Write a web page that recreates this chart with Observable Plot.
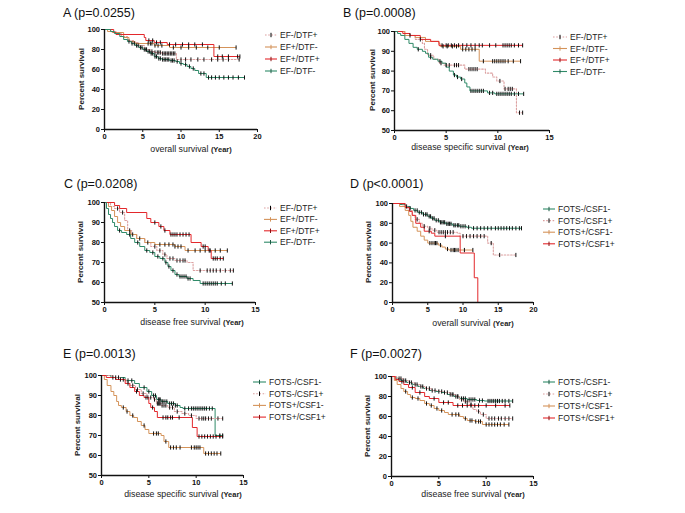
<!DOCTYPE html>
<html>
<head>
<meta charset="utf-8">
<script src="https://cdn.jsdelivr.net/npm/d3@7"></script>
<script src="https://cdn.jsdelivr.net/npm/@observablehq/plot@0.6"></script>
<style>
  html, body { margin: 0; padding: 0; background: #fff; }
  #root { position: relative; width: 685px; height: 513px; background: #fff; overflow: hidden; }
</style>
</head>
<body>
<div id="root"></div>
<script>
// ---------- labels ----------
const TITLES = ["A (p=0.0255)", "B (p=0.0008)", "C (p=0.0208)", "D (p<0.0001)", "E (p=0.0013)", "F (p=0.0027)"];
const XLABELS = ["overall survival", "disease specific survival", "disease free survival",
                 "overall survival", "disease specific survival", "disease free survival"];
const YLABEL = "Percent survival";
const EF_LABELS = ["EF-/DTF+", "EF+/DTF-", "EF+/DTF+", "EF-/DTF-"];
const FOTS_LABELS = ["FOTS-/CSF1-", "FOTS-/CSF1+", "FOTS+/CSF1-", "FOTS+/CSF1+"];
const TICKS_X20 = [0, 5, 10, 15, 20];
const TICKS_X15 = [0, 5, 10, 15];
const TICKS_Y0 = [0, 20, 40, 60, 80, 100];
const TICKS_Y50 = [50, 60, 70, 80, 90, 100];

// ---------- Panel A: overall survival (EF/DTF) ----------
const A_EFmDTFp_steps = [[0,100],[0.8,98],[1.5,96],[2.2,93],[3,89],[3.8,87],[4.5,84],[5.2,80],[6,78],[6.5,77],[7.5,76],[9.4,70]];
const A_EFmDTFp_cens = [5.5,6.2,6.6,6.9,7.1,7.3,7.6,7.8,8,8.2,8.4,8.6,8.8,9,9.2,10,10.6,11.3,12.2,13,14,14.8,15.5,16.2,17.6];
const A_EFpDTFm_steps = [[0,100],[0.4,98],[1,97],[2.5,92],[3.2,88],[4,86],[6.5,84],[8.5,82]];
const A_EFpDTFm_cens = [5.7,6,6.2,6.6,7,7.5,9,10,11,12,13.5,15,17.2];
const A_EFpDTFp_steps = [[0,100],[1.2,97],[1.5,95],[5.2,92],[5.4,89],[6.5,87],[8.2,85],[14.3,73]];
const A_EFpDTFp_cens = [5.8,6.3,6.8,7.3,8.5,9.3,10.2,11,11.8,12.8,14.8,15.4,16.2,17.4,17.7];
const A_EFmDTFm_steps = [[0,100],[0.8,98],[1.3,96],[2,93],[2.5,90],[3,88],[3.5,86],[4,84],[4.5,82],[5,80],[5.5,78],[6,76],[6.5,73],[7,71],[7.5,70],[8.5,69],[9.3,68],[9.8,66],[10.3,65],[10.8,63],[11.3,61],[11.8,59],[12.3,56],[13.3,52]];
const A_EFmDTFm_cens = [3.2,3.6,3.9,4.2,4.4,4.7,4.9,5.2,5.4,5.7,5.9,6.1,6.3,6.6,6.8,7.1,7.3,7.6,7.8,8,8.2,8.4,8.7,8.9,9.1,9.5,10,10.6,11.1,11.6,12.6,13,13.6,14,14.5,15,15.6,16.2,16.8,17.5,18.3];

// ---------- Panel B: disease specific survival (EF/DTF) ----------
const B_EFmDTFp_steps = [[0,100],[1,98],[2,96],[2.7,94],[2.9,91],[3.2,88],[3.8,86],[4.3,84],[4.8,83],[6.8,81],[8.8,79],[9.5,77],[9.9,75],[10.6,71],[11.8,59]];
const B_EFmDTFp_cens = [1.5,2.5,3.5,4.5,5,5.3,5.8,6,6.2,7.2,7.4,7.6,7.8,8,10.2,10.7,11,11.2,11.4,12.1,12.4];
const B_EFpDTFm_steps = [[0,100],[1,98],[2,97],[3,95],[4.3,94],[4.4,92.5],[6.4,91],[8.2,85]];
const B_EFpDTFm_cens = [4.7,5.1,5.6,6,6.6,6.9,7.2,7.5,7.8,8.6,9.5,9.7,9.9,10.1,10.3,10.5,10.7,11,11.5,12.2];
const B_EFpDTFp_steps = [[0,100],[0.8,99],[1.5,98],[2.5,96],[3.5,95],[4.3,93]];
const B_EFpDTFp_cens = [4.6,5,5.2,5.5,5.8,6.2,6.6,7,7.4,7.8,8.2,8.5,9.2,9.8,10.5,10.7,10.9,11.1,11.3,11.6,12,12.4];
const B_EFmDTFm_steps = [[0,100],[0.3,99],[0.6,98],[1,96],[1.4,94],[1.8,92],[2.2,91],[2.7,90],[3,89],[3.3,87],[3.7,86],[4.2,85],[4.6,84],[5,82],[5.3,80],[5.7,78],[6,77],[6.4,76],[6.8,74],[7,72],[7.3,70],[9,69],[9.7,68.5]];
const B_EFmDTFm_cens = [2.3,3.5,4.4,5.8,6.1,6.5,7.4,7.6,7.8,8,8.2,8.4,8.6,9.2,9.5,9.9,10.1,10.3,10.5,10.7,10.9,11.1,11.3,11.6,12,12.5];

// ---------- Panel C: disease free survival (EF/DTF) ----------
const C_EFmDTFp_steps = [[0,100],[0.6,98],[1,97],[1.5,95],[2,91],[2.3,86],[2.7,84],[3.2,82],[4,80],[4.6,78],[5.2,76],[5.8,74],[6.2,72],[7,71],[8.2,70],[8.8,66]];
const C_EFmDTFp_cens = [1.3,1.8,2.5,3.5,4.3,5,5.5,6,6.5,6.8,7.2,7.5,7.8,8,9.5,10.2,10.5,10.8,11.1,11.5,12,12.5,12.8];
const C_EFpDTFm_steps = [[0,100],[0.4,98],[0.7,96],[1,93],[1.3,90],[1.6,88],[2,86],[2.6,84],[3.2,82],[4,80],[5,79],[7,78],[8,76]];
const C_EFpDTFm_cens = [2.8,5.5,6,6.4,6.8,7,7.3,7.6,8.3,9,9.5,10,10.5,11,11.5,12.2];
const C_EFpDTFp_steps = [[0,100],[1,98.5],[1.5,97],[2.2,95],[4.2,92],[4.6,90],[5.4,88],[5.9,86],[6.5,84],[8.6,80],[9.6,78],[10.3,76],[10.6,72]];
const C_EFpDTFp_cens = [5,5.6,6,6.6,6.8,7,7.2,7.5,7.8,8.1,8.4,9.8,10,10.4,10.8,11,11.2,11.5,11.8];
const C_EFmDTFm_steps = [[0,100],[0.2,97],[0.4,94],[0.6,92],[0.8,90],[1,88],[1.3,86],[1.7,85],[2.2,84],[2.6,82],[3,80],[3.5,78],[4,76],[4.5,75],[5,73],[5.5,72],[6,70],[6.3,68],[6.6,66],[7,64],[7.4,63],[8.2,62],[8.8,61],[9.5,59.5]];
const C_EFmDTFm_cens = [1.5,2.5,3.3,4.2,4.8,5.3,5.8,6.1,6.4,6.8,7.2,7.5,7.7,7.9,8.1,8.3,8.5,9.8,10,10.2,10.4,10.6,10.8,11,11.2,11.6,12,12.7];

// ---------- Panel D: overall survival (FOTS/CSF1) ----------
const D_FmCm_steps = [[0,100],[1,99],[1.8,97],[2.5,95],[3,93],[3.6,91],[4.3,89],[5,87],[5.5,85],[6,83],[6.7,81],[7.5,79.5],[8.5,78],[9.5,77],[10.5,76],[11.2,75]];
const D_FmCm_cens = [2,2.5,3.2,3.5,3.8,4.1,4.4,4.7,4.9,5.2,5.4,5.7,5.9,6.2,6.5,6.8,7,7.2,7.4,7.7,7.9,8.1,8.3,8.7,8.9,9.2,9.4,9.7,10,10.3,10.8,11.5,12,12.5,13,13.5,14,14.6,15,15.4,15.8,16.2,16.6,17,17.5,18,18.3];
const D_FmCp_steps = [[0,100],[1.5,97],[2.2,93],[2.8,88],[3.2,84],[3.8,80],[4.3,77],[5,75],[5.6,73],[6.3,71],[9.2,70],[9.6,67],[13.5,60],[14.3,48]];
const D_FmCp_cens = [3.5,4.5,5.3,6,6.6,6.9,7.2,7.5,7.8,8.2,8.6,10,10.5,11,11.5,12,12.5,13,14,15.2,17.5];
const D_FpCm_steps = [[0,100],[1,97],[1.8,93],[2.3,88],[2.6,82],[2.9,76],[3.5,72],[4,67],[4.5,63],[5,60],[6.5,58],[7,56],[7.5,54],[8,53]];
const D_FpCm_cens = [5.3,5.6,5.9,6.1,6.3,6.8,7.8,8.3,8.6,8.8,9,9.3,10.2,11.4];
const D_FpCp_steps = [[0,100],[1.8,96],[2.4,92],[2.8,88],[3.3,80],[4,76],[4.5,72],[5.5,70],[6,67],[9.6,50],[11.6,25],[12.1,0]];
const D_FpCp_cens = [5.2,7.5];

// ---------- Panel E: disease specific survival (FOTS/CSF1) ----------
const E_FmCm_steps = [[0,100],[1,99],[2.5,97.5],[3.5,96],[4,94],[4.8,92],[5.3,90],[5.8,88],[6.3,87],[7,86],[7.8,85],[8.3,84],[8.6,83.5],[12,70]];
const E_FmCm_cens = [1.8,2.8,3.2,4.5,5,5.5,5.7,6,6.1,6.2,6.4,6.5,6.7,6.9,7.2,7.4,7.6,7.8,8,8.8,9.2,9.5,9.7,9.9,10.1,10.3,10.5,10.7,10.9,11.1,11.4,11.7,12.5,12.8];
const E_FmCp_steps = [[0,100],[1.2,99],[2,98],[2.6,96],[3,95],[3.6,93],[4.2,91],[4.8,89],[5.5,88],[5.8,86],[6.3,85],[7,84],[7.7,82],[8.5,81],[9.2,80],[10,78.5]];
const E_FmCp_cens = [1.5,2.3,3.3,3.8,4.4,4.9,5.2,5.6,5.9,6,6.1,6.2,6.4,6.6,6.8,7.2,7.5,8,8.8,9.5,10.3,10.6,10.8,11,11.3,11.6,12.3,12.8];
const E_FpCm_steps = [[0,100],[0.3,98],[0.6,95],[1,92],[1.3,90],[1.6,87],[1.8,85],[2.1,84],[2.6,82],[3,80],[3.4,79],[3.8,77],[4.2,75],[4.6,73],[5,71],[6.3,70],[6.6,67],[7.1,64],[10.8,61]];
const E_FpCm_cens = [2.3,2.7,3.3,4.5,5.5,5.8,6,6.8,7.3,7.6,7.9,8.3,9.5,9.8,10,10.2,10.4,11,11.3,11.6,11.9,12.2,12.6];
const E_FpCp_steps = [[0,100],[0.5,99],[1.5,98],[2.5,96],[3,94],[3.5,92],[4,90],[4.5,89],[5,86],[5.2,84],[5.6,82],[5.9,79],[9.6,74],[10.1,69.5]];
const E_FpCp_cens = [1.2,2,2.8,3.7,4.7,5.4,6.5,6.8,7,7.3,7.5,8.2,10.3,10.6,10.9,11.2,11.5,11.8,12.1,12.5,12.8];

// ---------- Panel F: disease free survival (FOTS/CSF1) ----------
const F_FmCm_steps = [[0,100],[0.5,98],[1,96],[1.6,94],[2.2,92],[2.8,90],[3.4,88],[4,86],[4.7,85],[5.3,84],[5.9,82],[6.6,80],[7.2,78],[8,77],[9,76],[9.8,75.5]];
const F_FmCm_cens = [0.8,1.3,1.9,2.5,3.1,3.7,4.3,5,5.6,6.2,6.4,6.8,7,7.4,7.6,7.8,8.2,8.4,8.6,8.8,9.3,9.6,10.2,10.4,10.6,10.8,11,11.2,11.4,11.7,12,12.4,12.8];
const F_FmCp_steps = [[0,100],[0.6,98],[1.2,96],[1.8,94],[2.4,92],[3,90],[3.6,88],[4.2,86],[5,85],[5.6,84],[6.2,82],[6.8,80],[7.2,77],[7.6,75],[8.2,72],[8.6,67],[9,65],[9.4,62],[10,58]];
const F_FmCp_cens = [1,1.5,2.1,2.7,3.3,4,4.6,5.3,5.9,6.5,7,7.4,7.8,8,8.4,9.2,9.7,10.3,10.6,10.9,11.3,11.6,12,12.4,12.8];
const F_FpCm_steps = [[0,100],[0.3,96],[0.6,92],[1,88],[1.3,85],[1.7,82],[2,79],[2.5,78],[3,76],[3.5,73],[4,71],[4.5,68],[5,66],[5.6,64],[6,62],[7.2,60],[7.6,58],[8,56],[8.8,55],[9.6,52]];
const F_FpCm_cens = [1.5,2.2,2.8,3.7,4.2,4.8,5.3,6.4,6.8,7.1,7.8,8.3,8.5,8.9,9.2,9.4,10,10.3,10.6,10.9,11.2,11.5,11.9,12.4];
const F_FpCp_steps = [[0,100],[0.4,97],[0.8,95],[1.3,92],[1.8,89],[2.5,84],[3.5,80],[4,78],[5,74],[6.5,71]];
const F_FpCp_cens = [1.1,2.2,3,4.5,5.5,6,7,7.5,8,8.4,8.8,9.2,10,11,12,12.5];

// ---------- styles ----------
const GREEN = "#2f8a68", TAN = "#d4935a", RED = "#e3282c", PINK = "#dca0a0";
const ST_DOT = {color: PINK, dash: "1.6,1.6", tick: "#000"};
const ST_TAN = {color: TAN, dash: null, tick: TAN};
const ST_RED = {color: RED, dash: null, tick: "#8a1010"};
const ST_GREEN = {color: GREEN, dash: null, tick: "#1d5a44"};
const EF_STYLES = [ST_DOT, ST_TAN, ST_RED, ST_GREEN];
const FOTS_STYLES = [ST_GREEN, ST_DOT, ST_TAN, ST_RED];

const FONT = "'Liberation Sans', Arial, Helvetica, sans-serif";

const panels = [
  {i:0, x0:104, x1:257, yTop:29, yBot:129, xdom:[0,20], xt:TICKS_X20, ydom:[0,100], yt:TICKS_Y0,
   title:[63,17], ylab:[81,79], xlab:[191,149], leg:{mx:265, tx:280, y0:35, dy:12},
   labels:EF_LABELS, styles:EF_STYLES,
   series:[[A_EFmDTFp_steps,A_EFmDTFp_cens],[A_EFpDTFm_steps,A_EFpDTFm_cens],[A_EFpDTFp_steps,A_EFpDTFp_cens],[A_EFmDTFm_steps,A_EFmDTFm_cens]]},
  {i:1, x0:394, x1:549, yTop:31, yBot:130, xdom:[0,15], xt:TICKS_X15, ydom:[50,100], yt:TICKS_Y50,
   title:[343,17], ylab:[372,80], xlab:[470,147], leg:{mx:553, tx:570, y0:37, dy:11.5},
   labels:EF_LABELS, styles:EF_STYLES,
   series:[[B_EFmDTFp_steps,B_EFmDTFp_cens],[B_EFpDTFm_steps,B_EFpDTFm_cens],[B_EFpDTFp_steps,B_EFpDTFp_cens],[B_EFmDTFm_steps,B_EFmDTFm_cens]]},
  {i:2, x0:104, x1:255, yTop:202, yBot:302, xdom:[0,15], xt:TICKS_X15, ydom:[50,100], yt:TICKS_Y50,
   title:[64,188], ylab:[80,252], xlab:[192,322], leg:{mx:264, tx:280, y0:208, dy:11.4},
   labels:EF_LABELS, styles:EF_STYLES,
   series:[[C_EFmDTFp_steps,C_EFmDTFp_cens],[C_EFpDTFm_steps,C_EFpDTFm_cens],[C_EFpDTFp_steps,C_EFpDTFp_cens],[C_EFmDTFm_steps,C_EFmDTFm_cens]]},
  {i:3, x0:392, x1:533, yTop:203, yBot:302, xdom:[0,20], xt:TICKS_X20, ydom:[0,100], yt:TICKS_Y0,
   title:[350,188], ylab:[368,252], xlab:[473,323], leg:{mx:543, tx:558, y0:209, dy:11.6},
   labels:FOTS_LABELS, styles:FOTS_STYLES,
   series:[[D_FmCm_steps,D_FmCm_cens],[D_FmCp_steps,D_FmCp_cens],[D_FpCm_steps,D_FpCm_cens],[D_FpCp_steps,D_FpCp_cens]]},
  {i:4, x0:101, x1:243, yTop:375, yBot:475, xdom:[0,15], xt:TICKS_X15, ydom:[50,100], yt:TICKS_Y50,
   title:[63,358], ylab:[77,425], xlab:[183,494], leg:{mx:253, tx:269, y0:382, dy:11.7},
   labels:FOTS_LABELS, styles:FOTS_STYLES,
   series:[[E_FmCm_steps,E_FmCm_cens],[E_FmCp_steps,E_FmCp_cens],[E_FpCm_steps,E_FpCm_cens],[E_FpCp_steps,E_FpCp_cens]]},
  {i:5, x0:391, x1:533, yTop:376, yBot:476, xdom:[0,15], xt:TICKS_X15, ydom:[0,100], yt:TICKS_Y0,
   title:[350,358], ylab:[367,426], xlab:[473,494], leg:{mx:543, tx:558, y0:382, dy:12},
   labels:FOTS_LABELS, styles:FOTS_STYLES,
   series:[[F_FmCm_steps,F_FmCm_cens],[F_FmCp_steps,F_FmCp_cens],[F_FpCm_steps,F_FpCm_cens],[F_FpCp_steps,F_FpCp_cens]]}
];

// censor tick symbol (vertical bar)
const censorSymbol = {draw(ctx, size) { const h = Math.sqrt(size / Math.PI); ctx.moveTo(0, -h); ctx.lineTo(0, h); }};

function stepValue(steps, t) {
  let v = steps[0][1];
  for (const [ts, s] of steps) if (ts <= t) v = s;
  return v;
}

const root = document.getElementById("root");

for (const p of panels) {
  const mL = 30, mR = 8, mT = 6, mB = 16;
  const width = p.x1 - p.x0 + mL + mR;
  const height = p.yBot - p.yTop + mT + mB;
  const marks = [];
  p.series.forEach(([steps, cens], k) => {
    const st = p.styles[k];
    const last = steps[steps.length - 1];
    const end = Math.max(last[0], cens.length ? cens[cens.length - 1] : 0);
    const pts = steps.map(([t, s]) => ({t, s}));
    pts.push({t: end, s: last[1]});
    marks.push(Plot.line(pts, {x: "t", y: "s", curve: "step-after", stroke: st.color, strokeWidth: st.dash ? 1.1 : 1, strokeDasharray: st.dash || undefined}));
  });
  p.series.forEach(([steps, cens]) => {
    const cd = cens.map(t => ({t, s: stepValue(steps, t)}));
    marks.push(Plot.dot(cd, {x: "t", y: "s", symbol: censorSymbol, r: 2.1, stroke: "#111", fill: "none", strokeWidth: 1}));
  });
  marks.push(Plot.ruleX([p.xdom[0]], {stroke: "#111", strokeWidth: 1.4}));
  marks.push(Plot.ruleY([p.ydom[0]], {stroke: "#111", strokeWidth: 1.4}));

  const svg = Plot.plot({
    width, height, marginLeft: mL, marginRight: mR, marginTop: mT, marginBottom: mB,
    x: {domain: p.xdom, ticks: p.xt, tickSize: 3, tickPadding: 1.5, label: null, tickFormat: d => String(d)},
    y: {domain: p.ydom, ticks: p.yt, tickSize: 3, tickPadding: 1.5, label: null, tickFormat: d => String(d)},
    style: {fontFamily: FONT, fontSize: "7.5px", fontWeight: "bold", color: "#111", background: "transparent", overflow: "visible"},
    marks
  });
  svg.style.position = "absolute";
  svg.style.left = (p.x0 - mL) + "px";
  svg.style.top = (p.yTop - mT) + "px";
  root.append(svg);
}

// ---------- text overlay: titles, axis labels, legends ----------
const ov = d3.create("svg")
  .attr("width", 685).attr("height", 513)
  .style("position", "absolute").style("left", "0px").style("top", "0px")
  .style("pointer-events", "none")
  .style("font-family", FONT);

for (const p of panels) {
  ov.append("text").attr("x", p.title[0]).attr("y", p.title[1])
    .attr("font-size", 12.5).attr("fill", "#111").text(TITLES[p.i]);
  ov.append("text").attr("transform", `translate(${p.ylab[0]},${p.ylab[1]}) rotate(-90)`)
    .attr("text-anchor", "middle").attr("dominant-baseline", "central")
    .attr("font-size", 8).attr("font-weight", "bold").attr("fill", "#222").text(YLABEL);
  const xl = ov.append("text").attr("x", p.xlab[0]).attr("y", p.xlab[1])
    .attr("text-anchor", "middle").attr("dominant-baseline", "central").attr("fill", "#222");
  xl.append("tspan").attr("font-size", 8.8).text(XLABELS[p.i] + " ");
  xl.append("tspan").attr("font-size", 7.5).attr("font-weight", "bold").text("(Year)");

  p.labels.forEach((lab, k) => {
    const st = p.styles[k];
    const y = p.leg.y0 + k * p.leg.dy;
    const mx0 = p.leg.mx, mx1 = p.leg.tx - 3;
    ov.append("line").attr("x1", mx0).attr("x2", mx1).attr("y1", y).attr("y2", y)
      .attr("stroke", st.color).attr("stroke-width", 1.1)
      .attr("stroke-dasharray", st.dash || null);
    const cx = (mx0 + mx1) / 2;
    ov.append("line").attr("x1", cx).attr("x2", cx).attr("y1", y - 2.2).attr("y2", y + 2.2)
      .attr("stroke", st.tick).attr("stroke-width", 1);
    ov.append("text").attr("x", p.leg.tx).attr("y", y).attr("dominant-baseline", "central")
      .attr("font-size", 8.5).attr("fill", "#222").text(lab);
  });
}
root.append(ov.node());
</script>
</body>
</html>
